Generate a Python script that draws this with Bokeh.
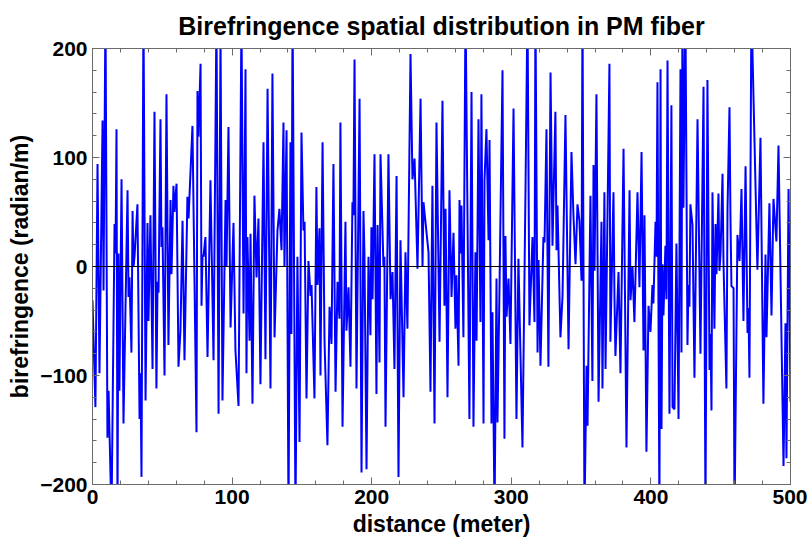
from bokeh.plotting import figure
from bokeh.models import Range1d, LinearAxis, SingleIntervalTicker, Span
from bokeh.embed import file_html
from bokeh.resources import INLINE

# distance (m) and birefringence (radian/m)
distance = (
    [0, 2.1, 3.6, 5.0, 7.2, 7.9, 9.3, 10.7, 11.5, 13.6, 15.8, 16.5, 17.2, 17.9, 18.6, 19.3, 20.8, 22.2, 25.1, 25.8, 26.5, 27.9, 28.7, 29.4, 30.1, 32.2, 33.7, 34.4, 35.1, 36.5, 38.0, 39.4, 40.1]
    + [41.5, 43.0, 44.4, 45.8, 46.6, 47.3, 48.7, 49.4, 50.1, 51.6, 53.0, 54.4, 55.9, 56.6, 58.0, 58.7, 60.2, 61.6, 63.0, 64.5, 65.9, 68.0, 68.8, 71.6, 74.5, 75.2, 75.9, 77.4, 78.1, 78.8, 79.5, 80.9, 82.4]
    + [84.5, 86.7, 88.8, 90.3, 91.7, 93.1, 95.3, 96.0, 97.4, 98.9, 101.0, 102.4, 104.6, 106.7, 108.2, 109.6, 110.3, 111.0, 112.5, 113.2, 114.6, 116.0, 117.5, 118.9, 120.3, 122.5, 123.9]
    + [125.4, 127.5, 128.9, 130.4, 132.5, 133.9, 135.4, 136.8, 137.5, 139.0, 140.4, 141.8, 142.5, 143.3, 145.4, 146.8, 148.3, 149.7, 151.1, 151.9, 153.3, 154.7, 156.2, 156.9, 159.0, 160.4, 161.2, 162.6, 163.3, 164.8, 166.2]
    + [168.3, 169.8, 171.2, 172.6, 174.1, 175.5, 176.9, 177.6, 179.1, 181.2, 181.9, 183.4, 184.8, 186.2, 186.9, 187.7, 189.1, 191.3, 192.7, 194.1, 194.8, 196.3, 197.7, 199.1, 199.8, 200.6, 202.0, 203.4, 204.2, 205.6, 206.3, 207.7]
    + [208.4, 209.1, 209.9, 212.0, 213.5, 214.9, 216.3, 217.8, 219.2, 220.6, 222.8, 224.2, 225.6, 227.8, 229.2, 230.7, 232.8, 235.0, 236.4, 237.1, 240.7, 242.1, 243.5, 245.0, 246.4, 248.6]
    + [250.7, 252.1, 252.9, 254.3, 255.7, 257.2, 258.6, 260.0, 260.7, 262.2, 262.9, 263.6, 264.3, 265.7, 267.2, 270.0, 271.5, 272.9, 274.3, 275.1, 276.5, 277.9, 278.6, 280.1, 280.8, 282.2, 283.7, 284.4, 285.8, 286.5, 288.0, 289.4, 290.1]
    + [291.5, 293.7, 295.1, 295.8, 296.6, 298.0, 299.4, 301.6, 303.7, 305.1, 308.0, 310.2, 311.6, 313.0, 315.2, 316.6, 317.3, 318.8, 319.5, 320.9, 323.0, 323.8, 325.2, 326.6, 328.1, 329.5, 331.6, 332.4]
    + [333.1, 335.2, 336.7, 338.8, 341.0, 343.1, 344.5, 346.0, 347.4, 348.8, 350.3, 351.0, 352.4, 353.9, 354.6, 356.7, 358.1, 358.9, 359.6, 361.0, 362.5, 364.6, 365.3, 366.7, 367.5, 370.3, 371.0, 373.2, 373.9]
    + [374.6, 376.8, 378.2, 380.4, 382.5, 384.7, 385.4, 386.8, 388.2, 390.4, 391.8, 393.3, 394.7, 395.4, 396.8, 398.3, 399.7, 401.1, 401.8, 403.3, 404.0, 404.7, 406.1, 406.9, 407.6, 408.3, 409.0, 410.4, 411.1, 411.9, 413.3, 414.7]
    + [415.5, 416.9, 418.3, 419.8, 421.2, 421.9, 422.6, 423.3, 424.7, 426.2, 426.9, 427.6, 428.3, 429.8, 431.2, 433.4, 435.5, 437.7, 439.1, 440.5, 442.0, 442.7, 443.4, 444.1, 445.5, 446.3, 447.0, 448.4, 449.1, 449.9, 451.3, 452.0, 454.1, 454.9, 456.3]
    + [457.0, 457.7, 459.2, 459.9, 462.0, 463.5, 464.9, 466.3, 467.8, 469.2, 469.9, 470.6, 472.0, 476.3, 478.5, 480.6, 482.1, 482.8, 484.9, 486.4, 487.8, 489.9, 491.4, 495.0, 496.4, 497.1, 498.6, 500.0]
)
birefringence = (
    [-31, -129, 94, -98, 134, -22, 240, -157, -114, -230, 39, 12, 126, -230, 12, -114, 80, -144, 70, -28, -10, -79, 51, 0, 9, 57, -140, -98, -193, 240, -123, 40, -50]
    + [47, -94, 142, -112, -14, -24, 135, 18, 36, -100, 158, -72, 61, -7, 74, 50, 76, -92, -59, 42, -86, 64, 44, 129, -152, 161, 119, 186, -36, 10, 9, 27, -83]
    + [79, -86, 230, -135, 215, -123, 61, 0, 128, -56, 40, -77, -128, 230, -43, 181, -98, 27, -68, 30, -126, 65, -10, 44, -108, 114, -85]
    + [163, -112, 177, -65, 33, 53, 15, 132, 0, 125, -230, 114, -62, 240, -230, 9, -161, 123, 33, 41, -121, 5, -27, -17, -121, 73, -17, 35, -100, 114, -68]
    + [-164, -37, -71, 94, -115, -14, -48, 132, -147, 41, -59, -19, -92, 59, 47, 190, -112, 154, -189, 51, 12, -186, 9, -63, 36, -30, 103, -117, 38, -88, 103, 36]
    + [0, 9, -147, 103, -30, -5, -94, 83, -193, 24, -120, 13, -57, 195, 80, 99, -2, 154, 0, 59, 13, -115, 74, -144, 132, -69]
    + [152, -36, 53, -120, 70, -28, 31, -57, -8, -91, 61, 12, 56, -65, 240, -140, 160, -147, 13, -68, 135, -51, 158, -144, 79, 126, 24, 116, -144, -42, -230, -11, -143]
    + [-24, 180, -158, 28, -46, -11, -71, 145, -140, 7, -166, 73, 240, -54, 27, -51, 240, -79, 6, -91, 27, 22, 126, -92, 178, 19, 142, 15]
    + [56, -65, -27, 139, -76, 105, 48, 2, 57, 42, -13, 240, -230, -91, -146, 65, -105, 93, -4, 158, -124, 41, -112, 68, -94, 186, -69, 68, -28]
    + [-82, -5, -98, 108, -166, 70, -31, 0, -51, 68, -19, 105, -77, 47, -170, -36, -60, -17, -34, 41, 9, 169, -230, 181, -149, 2, -45, 19, -30, 189, -135, 148]
    + [-129, -131, 21, -140, 181, -79, 240, 54, 240, -72, -17, -37, 57, 38, -102, 135, -80, 165, -230, 171, -95, -62, -132, 68, -57, 39, -7, 67, -4, 12, 85, 4, -112, 54, 146]
    + [44, -18, -20, -230, 29, 5, 71, -50, 92, -61, -38, -102, 240, -3, 118, -126, 11, -65, 58, -45, 62, 23, 111, -183, -52, -176, 71, -124]
)
n = min(len(distance), len(birefringence))
distance = distance[:n]
birefringence = birefringence[:n]

x_range = (0, 500)
y_range = (-200, 200)
tick_step = 100
title_text = "Birefringence spatial distribution in PM fiber"
x_label = "distance (meter)"
y_label = "birefringence (radian/m)"

FONT = "Liberation Sans"
FRAME = "#6b6b6b"

p = figure(width=807, height=540, output_backend="svg", toolbar_location=None,
           x_range=Range1d(*x_range), y_range=Range1d(*y_range),
           min_border_left=92, min_border_right=17, min_border_top=48, min_border_bottom=56,
           x_axis_location=None, y_axis_location=None)
p.grid.visible = False
p.outline_line_color = FRAME
p.background_fill_color = "white"
p.border_fill_color = "white"

p.title.text = title_text
p.title.align = "center"
p.title.text_font = FONT
p.title.text_font_size = "25px"
p.title.text_font_style = "bold"
p.title.text_color = "black"
p.title.text_line_height = 0.9
p.title.standoff = 18

minus_labels = {-200: "\u2212200", -100: "\u2212100"}

def make_axis(show_labels, label=None, overrides=None):
    ax = LinearAxis(ticker=SingleIntervalTicker(interval=tick_step, num_minor_ticks=5))
    ax.axis_line_color = FRAME
    ax.major_tick_line_color = FRAME
    ax.minor_tick_line_color = FRAME
    ax.major_tick_in = 7
    ax.major_tick_out = 0
    ax.minor_tick_in = 4
    ax.minor_tick_out = 0
    if show_labels:
        ax.major_label_text_font = FONT
        ax.major_label_text_font_size = "21px"
        ax.major_label_text_font_style = "bold"
        ax.major_label_text_color = "black"
        ax.major_label_standoff = 5
        ax.axis_label = label
        ax.axis_label_text_font = FONT
        ax.axis_label_text_font_size = "23px"
        ax.axis_label_text_font_style = "bold"
        ax.axis_label_text_color = "black"
        ax.axis_label_standoff = 4
        if overrides:
            ax.major_label_overrides = overrides
    else:
        ax.major_label_text_color = None
        ax.major_label_text_font_size = "1px"
        ax.major_label_standoff = 0
    return ax

p.add_layout(make_axis(True, x_label), "below")
p.add_layout(make_axis(True, y_label, minus_labels), "left")
p.add_layout(make_axis(False), "above")
p.add_layout(make_axis(False), "right")

p.add_layout(Span(location=0, dimension="width", line_color="black", line_width=1.2))

p.line(distance, birefringence, line_color="#0000ff", line_width=2)

open("out.html", "w").write(file_html(p, INLINE))
